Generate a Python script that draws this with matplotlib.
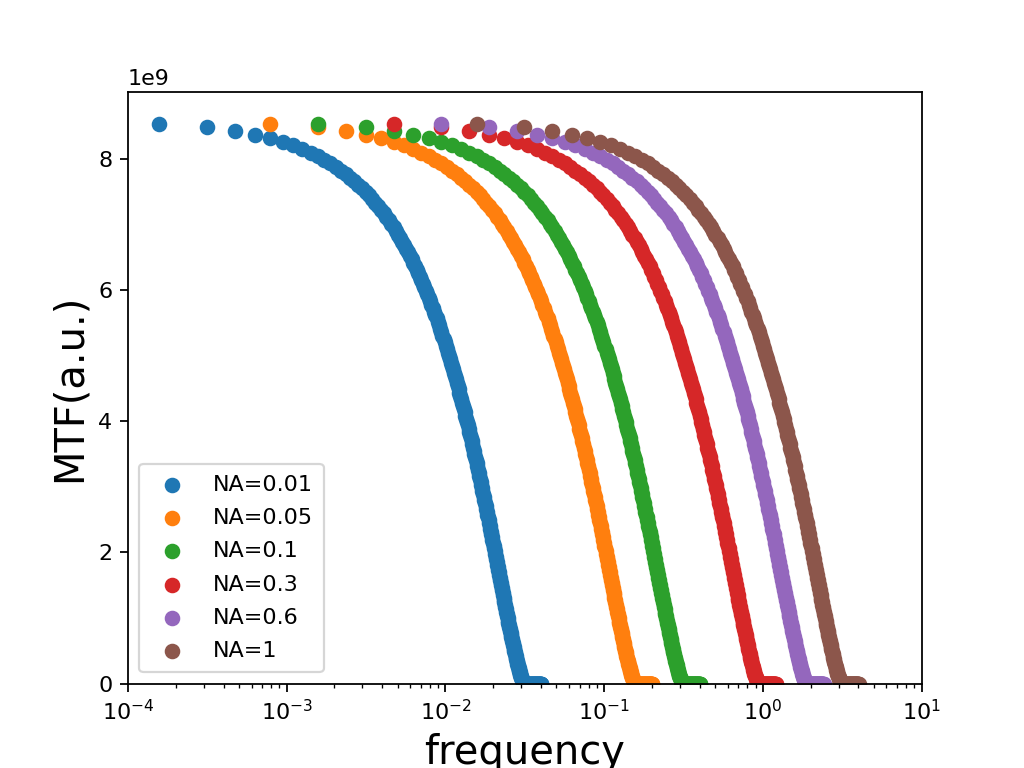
import matplotlib
matplotlib.use('Agg')
import matplotlib.pyplot as plt
import numpy as np

# legend labels, one series per numerical aperture
na_labels = ['NA=0.01', 'NA=0.05', 'NA=0.1', 'NA=0.3', 'NA=0.6', 'NA=1']

# frequency spacing between two samples of each series
freq_step = [1.57e-4, 7.85e-4, 1.57e-3, 4.71e-3, 9.42e-3, 1.57e-2]

# MTF samples (units of 1e9), the same profile for every NA, samples 1..256
mtf = [
    8.535, 8.481, 8.426, 8.371, 8.317, 8.262, 8.207, 8.153, 8.098, 8.043,
    7.989, 7.934, 7.880, 7.825, 7.770, 7.716, 7.662, 7.607, 7.553, 7.498,
    7.444, 7.389, 7.335, 7.281, 7.226, 7.172, 7.118, 7.064, 7.010, 6.956,
    6.902, 6.848, 6.794, 6.740, 6.686, 6.632, 6.578, 6.524, 6.471, 6.417,
    6.364, 6.310, 6.257, 6.203, 6.150, 6.097, 6.044, 5.991, 5.937, 5.884,
    5.832, 5.779, 5.726, 5.673, 5.621, 5.568, 5.516, 5.463, 5.411, 5.359,
    5.307, 5.255, 5.203, 5.151, 5.099, 5.047, 4.996, 4.944, 4.893, 4.842,
    4.791, 4.739, 4.688, 4.638, 4.587, 4.536, 4.486, 4.435, 4.385, 4.335,
    4.285, 4.235, 4.185, 4.135, 4.086, 4.036, 3.987, 3.938, 3.889, 3.840,
    3.791, 3.742, 3.694, 3.646, 3.597, 3.549, 3.501, 3.454, 3.406, 3.359,
    3.311, 3.264, 3.217, 3.171, 3.124, 3.077, 3.031, 2.985, 2.939, 2.893,
    2.848, 2.802, 2.757, 2.712, 2.667, 2.623, 2.578, 2.534, 2.490, 2.446,
    2.402, 2.359, 2.316, 2.273, 2.230, 2.187, 2.145, 2.103, 2.061, 2.019,
    1.978, 1.937, 1.896, 1.855, 1.815, 1.774, 1.734, 1.695, 1.655, 1.616,
    1.577, 1.538, 1.500, 1.462, 1.424, 1.387, 1.349, 1.312, 1.276, 1.239,
    1.203, 1.168, 1.132, 1.097, 1.063, 1.028, 0.994, 0.960, 0.927, 0.894,
    0.861, 0.829, 0.797, 0.766, 0.735, 0.704, 0.674, 0.644, 0.614, 0.585,
    0.557, 0.529, 0.501, 0.474, 0.447, 0.421, 0.395, 0.370, 0.345, 0.321,
    0.298, 0.275, 0.252, 0.231, 0.209, 0.189, 0.169, 0.150, 0.132, 0.114,
    0.098, 0.082, 0.067, 0.053, 0.041, 0.029, 0.019, 0.010, 0.004, 0.000,
    0.0, 0.0, 0.0, 0.0, 0.0, 0.0, 0.0, 0.0, 0.0, 0.0,
    0.0, 0.0, 0.0, 0.0, 0.0, 0.0, 0.0, 0.0, 0.0, 0.0,
    0.0, 0.0, 0.0, 0.0, 0.0, 0.0, 0.0, 0.0, 0.0, 0.0,
    0.0, 0.0, 0.0, 0.0, 0.0, 0.0, 0.0, 0.0, 0.0, 0.0,
    0.0, 0.0, 0.0, 0.0, 0.0, 0.0, 0.0, 0.0, 0.0, 0.0,
    0.0, 0.0, 0.0, 0.0, 0.0, 0.0,
]

sample_index = np.arange(1, len(mtf) + 1)
mtf_values = np.array(mtf) * 1e9

fig = plt.figure(figsize=(6.4, 4.8), dpi=160)

for lab, step in zip(na_labels, freq_step):
    plt.scatter(sample_index * step, mtf_values, label=lab)

plt.xscale('log')
plt.xlim(1e-4, 1e1)
plt.ylim(0, 9.02e9)
plt.xlabel('frequency', fontsize=18)
plt.ylabel('MTF(a.u.)', fontsize=18)
plt.legend(loc='lower left', labelspacing=0.6, borderpad=0.5)

plt.savefig('out.png')
